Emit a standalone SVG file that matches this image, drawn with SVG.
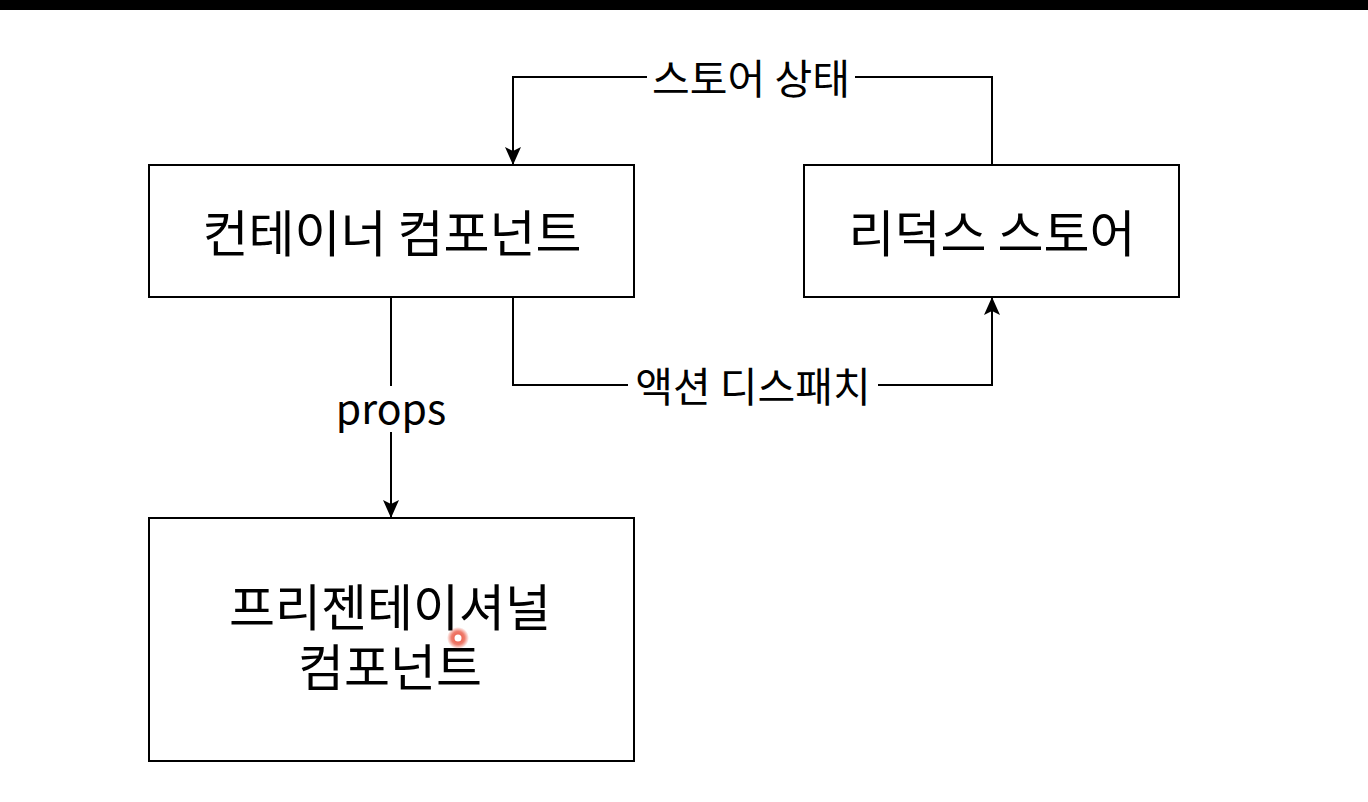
<svg xmlns="http://www.w3.org/2000/svg" width="1368" height="802" viewBox="0 0 1368 802">
<style>
.box{fill:#fff;stroke:#000;stroke-width:2}
.t{font-family:"Noto Sans CJK KR","Noto Sans",sans-serif;fill:#000;text-anchor:middle;dominant-baseline:central}
.big{font-size:50px}
.lbl{font-size:41px}
.edge{fill:none;stroke:#000;stroke-width:2}
</style>
<defs>
<marker id="arr" markerWidth="18" markerHeight="16" viewBox="0 0 18 16" refX="17" refY="8" orient="auto" markerUnits="userSpaceOnUse">
<path d="M0,0 L18,8 L0,16 L4,8 Z" fill="#000"/>
</marker>
<radialGradient id="glow">
<stop offset="0" stop-color="#e8452f" stop-opacity="0.95"/>
<stop offset="0.6" stop-color="#e8452f" stop-opacity="0.7"/>
<stop offset="1" stop-color="#e8452f" stop-opacity="0"/>
</radialGradient>
</defs>
<rect x="0" y="0" width="1368" height="802" fill="#fff"/>
<rect x="0" y="0" width="1368" height="10" fill="#000"/>
<g id="connectors">
<path class="edge" d="M992,165 V77 H513 V164" marker-end="url(#arr)"/>
<rect x="647" y="54" width="208" height="46" fill="#fff"/>
<text class="t lbl" x="751" y="76">스토어 상태</text>
<path class="edge" d="M513,297 V385 H992 V298" marker-end="url(#arr)"/>
<rect x="628" y="362" width="250" height="46" fill="#fff"/>
<text class="t lbl" x="753" y="384">액션 디스패치</text>
<path class="edge" d="M391,297 V517" marker-end="url(#arr)"/>
<rect x="334" y="386" width="114" height="46" fill="#fff"/>
<text class="t lbl" x="391" y="406">props</text>
</g>
<g id="container">
<rect class="box" x="149" y="165" width="485" height="132"/>
<text class="t big" x="392" y="230">컨테이너 컴포넌트</text>
</g>
<g id="store">
<rect class="box" x="804" y="165" width="375" height="132"/>
<text class="t big" x="992" y="230">리덕스 스토어</text>
</g>
<g id="presentational">
<rect class="box" x="149" y="518" width="485" height="243"/>
<text class="t big"><tspan x="390" y="604">프리젠테이셔널</tspan><tspan x="390" y="664">컴포넌트</tspan></text>
</g>
<circle cx="458" cy="638" r="11" fill="url(#glow)"/>
<circle cx="458" cy="638" r="3.5" fill="#fff"/>
</svg>
